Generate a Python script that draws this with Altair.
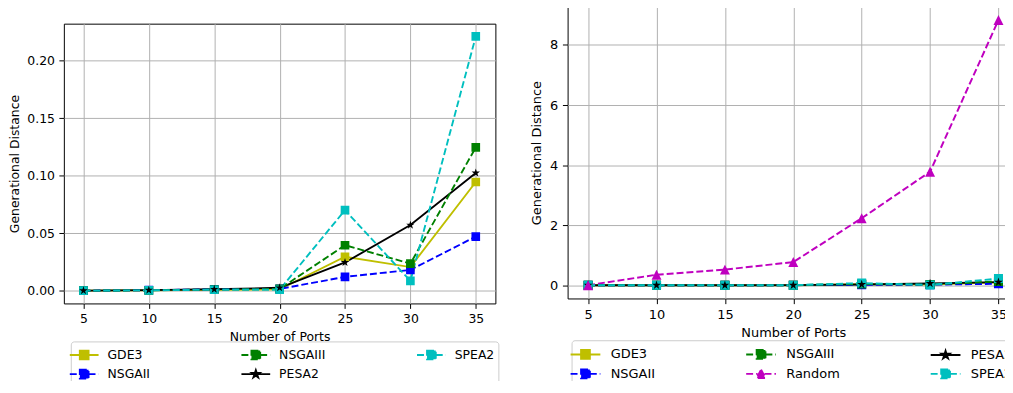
import math
import altair as alt
import pandas as pd

# ---------------- data ----------------
ports = [5, 10, 15, 20, 25, 30, 35]
gde3 = [0.0, 0.0003, 0.0008, 0.0012, 0.0295, 0.0205, 0.0945]
nsgaii = [0.0, 0.0004, 0.0012, 0.0015, 0.0120, 0.0180, 0.0470]
nsgaiii = [0.0, 0.0003, 0.0010, 0.0015, 0.0395, 0.0235, 0.1245]
pesa2 = [0.0, 0.0005, 0.0012, 0.0025, 0.0245, 0.0570, 0.1023]
spea2 = [0.0, 0.0003, 0.0008, 0.0008, 0.0700, 0.0085, 0.2210]
random_ = [0.0, 0.35, 0.52, 0.77, 2.23, 3.78, 8.83]

left_ticks = [0.0, 0.05, 0.10, 0.15, 0.20]
right_ticks = [0, 2, 4, 6, 8]

series = {
    "GDE3": gde3,
    "NSGAII": nsgaii,
    "NSGAIII": nsgaiii,
    "PESA2": pesa2,
    "Random": random_,
    "SPEA2": spea2,
}

# ---------------- styles ----------------
FONT = "DejaVu Sans"
COLORS = {"GDE3": "#bfbf00", "NSGAII": "#0000ff", "NSGAIII": "#008000",
          "PESA2": "#000000", "Random": "#bf00bf", "SPEA2": "#00bfbf"}
DASHED = {"GDE3": False, "NSGAII": True, "NSGAIII": True,
          "PESA2": False, "Random": True, "SPEA2": True}
DASH_PATTERN = [7, 3]
MARKER = {"GDE3": "square", "NSGAII": "square", "NSGAIII": "square",
          "PESA2": "star", "Random": "triangle", "SPEA2": "square"}


def f(v):
    return f"{v:.3f}"


def star_poly(r):
    pts = []
    for k in range(10):
        rr = r if k % 2 == 0 else r * 0.382
        a = math.radians(-90 + 36 * k)
        pts.append((rr * math.cos(a), rr * math.sin(a)))
    return "M" + "L".join(f"{f(x)},{f(y)}" for x, y in pts) + "Z"


def tri_poly(r):
    return f"M0,{f(-r)}L{f(r)},{f(r)}L{f(-r)},{f(r)}Z"


STAR_PATH = star_poly(1.0)
TRI_PATH = tri_poly(1.0)


def legend_path(marker, unit, half_len):
    L = half_len / unit
    if marker == "square":
        m = 4.4 / unit
        mark = f"M{f(-m)},{f(-m)}L{f(m)},{f(-m)}L{f(m)},{f(m)}L{f(-m)},{f(m)}Z"
    elif marker == "star":
        m = 2.5 / unit
        mark = star_poly(4.0 / unit)
    else:
        m = 3.5 / unit
        mark = tri_poly(4.3 / unit)
    return f"M{f(-L)},0L{f(-m)},0M{f(m)},0L{f(L)},0" + mark


def long_df(names):
    rows = []
    for n in names:
        for p, v in zip(ports, series[n]):
            rows.append({"ports": p, "gd": v, "alg": n})
    return pd.DataFrame(rows)


def panel(names, leg_order, width, height, xdom, ydom, yticks, yfmt, s, leg_x,
          leg_y, sym_px, half_len, pad, label_off, col_pad, row_pad):
    df = long_df(names)
    fs = 12.5 * s
    base = alt.Chart(df)
    xscale = alt.Scale(domain=xdom, nice=False, zero=False)
    yscale = alt.Scale(domain=ydom, nice=False, zero=False)
    x = alt.X("ports:Q", scale=xscale,
              axis=alt.Axis(values=ports, title="Number of Ports", format="d",
                            labelFontSize=fs, titleFontSize=fs,
                            tickSize=5 * s, labelPadding=4.5 * s,
                            titlePadding=5 * s))
    y = alt.Y("gd:Q", scale=yscale,
              axis=alt.Axis(values=yticks, format=yfmt,
                            title="Generational Distance",
                            labelFontSize=fs, titleFontSize=fs,
                            tickSize=5 * s, labelPadding=4.5 * s,
                            titlePadding=5.5 * s))
    # visible marks: colour scale with a different domain order than the
    # legend's, so its hidden legend never merges with the real one
    vis_names = list(reversed(names))
    vis_color = alt.Color("alg:N",
                          scale=alt.Scale(domain=vis_names,
                                          range=[COLORS[a] for a in vis_names]),
                          legend=None)

    solid = [a for a in names if not DASHED[a]]
    dashed = [a for a in names if DASHED[a]]
    layers = []
    for sel, dash in [(solid, None), (dashed, DASH_PATTERN)]:
        kw = dict(strokeWidth=1.9 * s, clip=True)
        if dash:
            kw["strokeDash"] = dash
        layers.append(
            base.transform_filter(alt.FieldOneOfPredicate(field="alg", oneOf=sel))
            .mark_line(**kw).encode(x=x, y=y, color=vis_color, detail="alg:N")
        )
    for mk, shp, size in [("square", "square", 76 * s * s),
                          ("star", STAR_PATH, 80 * s * s),
                          ("triangle", TRI_PATH, 92 * s * s)]:
        sel = [a for a in names if MARKER[a] == mk]
        if not sel:
            continue
        layers.append(
            base.transform_filter(alt.FieldOneOfPredicate(field="alg", oneOf=sel))
            .mark_point(filled=True, shape=shp, size=size, opacity=1, clip=True)
            .encode(x=x, y=y, color=vis_color)
        )

    unit = sym_px / 2.0
    leg = alt.Legend(title=None, orient="none", legendX=leg_x, legendY=leg_y,
                     columns=3, columnPadding=col_pad, rowPadding=row_pad,
                     symbolSize=sym_px * sym_px, symbolStrokeWidth=1.9 * s,
                     symbolOpacity=1, labelFont=FONT, labelFontSize=fs,
                     labelColor="black", labelOffset=label_off, labelLimit=300,
                     padding=pad, strokeColor="#cccccc", cornerRadius=3,
                     fillColor="white")
    leg_color = alt.Scale(domain=leg_order, range=[COLORS[a] for a in leg_order])
    shape_scale = alt.Scale(domain=leg_order,
                            range=[legend_path(MARKER[a], unit, half_len)
                                   for a in leg_order])
    dash_scale = alt.Scale(domain=leg_order,
                           range=[DASH_PATTERN if DASHED[a] else [1, 0]
                                  for a in leg_order])
    legend_layer = base.mark_point(filled=True, opacity=0).encode(
        x=x, y=y,
        fill=alt.Fill("alg:N", scale=leg_color, legend=leg),
        stroke=alt.Stroke("alg:N", scale=leg_color, legend=leg),
        shape=alt.Shape("alg:N", scale=shape_scale, legend=leg),
        strokeDash=alt.StrokeDash("alg:N", scale=dash_scale, legend=leg),
    )
    layers.append(legend_layer)
    return alt.layer(*layers).properties(
        width=width, height=height,
        view=alt.ViewBackground(stroke="black", strokeWidth=1))


left_names = ["GDE3", "NSGAII", "NSGAIII", "PESA2", "SPEA2"]
left_legend = ["GDE3", "NSGAII", "NSGAIII", "PESA2", "SPEA2"]
right_names = ["GDE3", "NSGAII", "NSGAIII", "PESA2", "Random", "SPEA2"]
right_legend = ["GDE3", "NSGAII", "NSGAIII", "Random", "PESA2", "SPEA2"]

left = panel(left_names, left_legend, 435, 282, [3.5, 36.5], [-0.0111, 0.2321],
             left_ticks, ".2f", 1.0, 7, 337.3, 17, 14.5, 4, 14, 88, 1.5)
right = panel(right_names, right_legend, 455, 294, [3.5, 36.5], [-0.4415, 9.2715],
              right_ticks, "d", 1.043, 4, 336.1, 18, 15, 4, 15.4, 87, 0.9)

spacer = alt.Chart(pd.DataFrame({"v": [0]})).mark_text().encode(
    text=alt.value("")).properties(width=435, height=16,
                                   view=alt.ViewBackground(stroke=None))

left_col = alt.vconcat(spacer, left, spacing=0)

chart = alt.hconcat(left_col, right, spacing=30.8).resolve_scale(
    color="independent", fill="independent", stroke="independent",
    shape="independent", strokeDash="independent",
).properties(
    autosize=alt.AutoSizeParams(type="none"),
    padding={"left": 56.3, "top": -2.7, "right": 948.7, "bottom": 375.7}
).configure_axis(
    labelFont=FONT, titleFont=FONT, titleFontWeight="normal",
    labelColor="black", titleColor="black", tickColor="black", tickWidth=1,
    domain=False, grid=True, gridColor="#b0b0b0", gridWidth=1,
).configure_view(stroke=None)

chart.save("out.html", embed_options={"renderer": "svg", "actions": False})
